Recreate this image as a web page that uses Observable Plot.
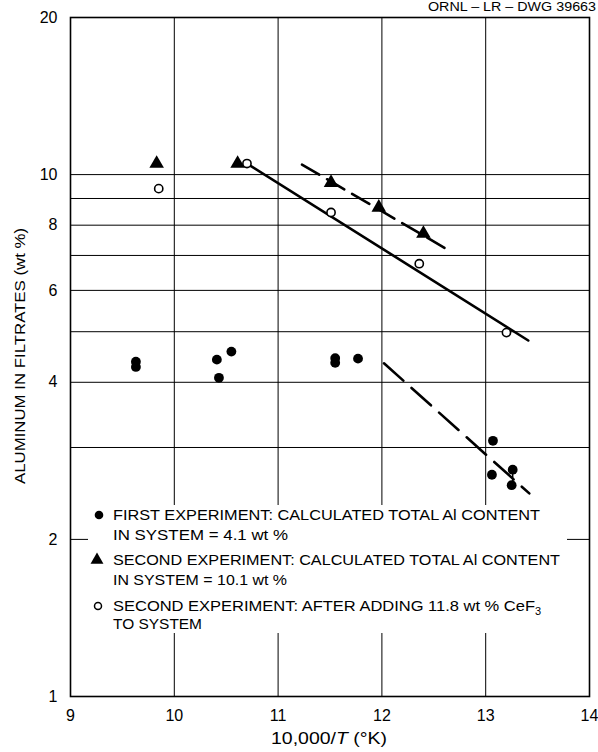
<!DOCTYPE html>
<html>
<head>
<meta charset="utf-8">
<script src="https://cdn.jsdelivr.net/npm/d3@7"></script>
<script src="https://cdn.jsdelivr.net/npm/@observablehq/plot@0.6"></script>
<style>
  html, body { margin: 0; padding: 0; background: #fff; }
  #wrap { position: relative; width: 598px; height: 752px; overflow: hidden; background: #fff; }
  #wrap > svg { position: absolute; left: 0; top: 0; }
  .overlay { pointer-events: none; font-family: "Liberation Sans", Arial, Helvetica, sans-serif; fill: #000; }
</style>
</head>
<body>
<div id="wrap"></div>
<script>
// Axis ticks and grid
const xTicks = [9, 10, 11, 12, 13, 14];
const yTicks = [1, 2, 4, 6, 8, 10, 20];
const gridX = [10, 11, 12, 13];
const gridY = [2, 3, 4, 5, 6, 7, 8, 9, 10];

// First experiment: calculated total Al content 4.1 wt % (filled circles)
const firstInvT = [9.63, 9.63, 10.41, 10.43, 10.55, 11.55, 11.55, 11.77, 13.07, 13.06, 13.26, 13.25];
const firstAl   = [4.38, 4.28, 4.42, 4.08, 4.58, 4.45, 4.36, 4.44, 3.09, 2.66, 2.72, 2.54];

// Second experiment: calculated total Al content 10.1 wt % (filled triangles)
const secondInvT = [9.83, 10.61, 11.51, 11.97, 12.40];
const secondAl   = [10.5, 10.5, 9.65, 8.65, 7.71];

// Second experiment after adding 11.8 wt % CeF3 (open circles)
const cefInvT = [9.85, 10.70, 11.51, 12.36, 13.20];
const cefAl   = [9.4, 10.5, 8.46, 6.75, 4.98];

// Trend lines (end points)
const trendSecondInvT = [11.23, 12.65];
const trendSecondAl   = [10.45, 7.15];
const trendCefInvT = [10.70, 13.41];
const trendCefAl   = [10.5, 4.81];
const trendFirstInvT = [12.02, 13.42];
const trendFirstAl   = [4.35, 2.45];

// Spread between duplicate samples at 13.26
const spreadInvT = [13.26];
const spreadLow  = [2.54];
const spreadHigh = [2.72];

const rows = (xs, ys) => xs.map((x, i) => ({x, y: ys[i]}));

const chart = Plot.plot({
  width: 598,
  height: 752,
  marginLeft: 70,
  marginRight: 9,
  marginTop: 17,
  marginBottom: 56,
  style: {
    fontFamily: "'Liberation Sans', Arial, Helvetica, sans-serif",
    fontSize: "16px",
    color: "#000",
    background: "transparent"
  },
  x: {
    domain: [9, 14],
    ticks: xTicks,
    tickFormat: d => String(d),
    tickSize: 0,
    tickPadding: 13,
    label: null
  },
  y: {
    type: "log",
    domain: [1, 20],
    ticks: yTicks,
    tickFormat: d => String(d),
    tickSize: 0,
    tickPadding: 13,
    label: null
  },
  marks: [
    Plot.ruleY(gridY, {stroke: "#000", strokeWidth: 1}),
    Plot.ruleX(gridX, {stroke: "#000", strokeWidth: 1}),
    Plot.frame({stroke: "#000", strokeWidth: 1.6}),
    Plot.line(rows(trendCefInvT, trendCefAl), {x: "x", y: "y", stroke: "#000", strokeWidth: 2.6}),
    Plot.line(rows(trendSecondInvT, trendSecondAl), {x: "x", y: "y", stroke: "#000", strokeWidth: 2.6, strokeDasharray: "20,9"}),
    Plot.line(rows(trendFirstInvT, trendFirstAl), {x: "x", y: "y", stroke: "#000", strokeWidth: 2.6, strokeDasharray: "26,11"}),
    Plot.ruleX(spreadInvT.map((x, i) => ({x, y1: spreadLow[i], y2: spreadHigh[i]})), {x: "x", y1: "y1", y2: "y2", stroke: "#000", strokeWidth: 1.5}),
    Plot.dot(rows(firstInvT, firstAl), {x: "x", y: "y", r: 4.9, fill: "#000", stroke: "none"}),
    Plot.dot(rows(secondInvT, secondAl), {x: "x", y: "y", symbol: "triangle", r: 5.4, fill: "#000", stroke: "none"}),
    Plot.dot(rows(cefInvT, cefAl), {x: "x", y: "y", r: 4.1, fill: "#fff", stroke: "#000", strokeWidth: 1.6})
  ]
});

const wrap = document.getElementById("wrap");
wrap.appendChild(chart);

// Overlay: drawing number, axis titles, legend
const NS = "http://www.w3.org/2000/svg";
const ov = d3.select(wrap).append("svg")
  .attr("class", "overlay")
  .attr("width", 598).attr("height", 752)
  .attr("xmlns", NS);

ov.append("text")
  .attr("x", 596).attr("y", 11)
  .attr("text-anchor", "end")
  .attr("font-size", 12.5)
  .attr("textLength", 168).attr("lengthAdjust", "spacingAndGlyphs")
  .text("ORNL – LR – DWG 39663");

ov.append("text")
  .attr("transform", "translate(25,356) rotate(-90)")
  .attr("text-anchor", "middle")
  .attr("font-size", 15)
  .attr("textLength", 256).attr("lengthAdjust", "spacingAndGlyphs")
  .text("ALUMINUM IN FILTRATES (wt %)");

const xl = ov.append("text")
  .attr("x", 329).attr("y", 744)
  .attr("text-anchor", "middle")
  .attr("font-size", 16)
  .attr("textLength", 116).attr("lengthAdjust", "spacingAndGlyphs");
xl.append("tspan").text("10,000/");
xl.append("tspan").attr("font-style", "italic").text("T");
xl.append("tspan").text(" (°K)");

// Legend box
const lg = ov.append("g");
lg.append("rect")
  .attr("x", 88).attr("y", 505).attr("width", 479).attr("height", 128)
  .attr("fill", "#fff");

const legendLines = [
  {y: 520, text: "FIRST EXPERIMENT: CALCULATED TOTAL Al CONTENT", len: 427},
  {y: 540, text: "IN SYSTEM = 4.1 wt %", len: 175},
  {y: 565, text: "SECOND EXPERIMENT: CALCULATED TOTAL Al CONTENT", len: 447},
  {y: 585, text: "IN SYSTEM = 10.1 wt %", len: 174},
  {y: 611, text: "SECOND EXPERIMENT: AFTER ADDING 11.8 wt % CeF", sub: "3", len: 422},
  {y: 629, text: "TO SYSTEM", len: 89}
];
for (const l of legendLines) {
  const t = lg.append("text")
    .attr("x", 113).attr("y", l.y)
    .attr("font-size", 15.5);
  t.append("tspan").attr("textLength", l.len).attr("lengthAdjust", "spacingAndGlyphs").text(l.text);
  if (l.sub) t.append("tspan").attr("dy", 4).attr("font-size", 11).text(l.sub);
}
lg.append("circle").attr("cx", 99).attr("cy", 515).attr("r", 4.3).attr("fill", "#000");
lg.append("path").attr("d", d3.symbol(d3.symbolTriangle, Math.PI * 4.8 * 4.8)()).attr("transform", "translate(97,560)").attr("fill", "#000");
lg.append("circle").attr("cx", 98).attr("cy", 606).attr("r", 3.5).attr("fill", "#fff").attr("stroke", "#000").attr("stroke-width", 1.5);
</script>
</body>
</html>
